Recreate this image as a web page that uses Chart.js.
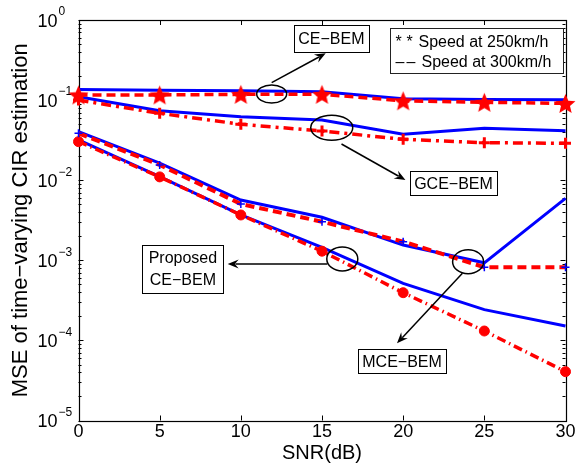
<!DOCTYPE html>
<html>
<head>
<meta charset="utf-8">
<script src="https://cdn.jsdelivr.net/npm/chart.js@4.4.1/dist/chart.umd.min.js"></script>
<style>
  body { margin: 0; background: #fff; }
  canvas { display: block; }
</style>
</head>
<body>
<canvas id="mseChart" width="579" height="476"></canvas>
<script>
// SNR points (dB) and axis ticks
const snr = [0, 5, 10, 15, 20, 25, 30];
const snrTicks = [0, 5, 10, 15, 20, 25, 30];
const decadeExp = [0, -1, -2, -3, -4, -5];

// MSE values, solid blue = one speed, red marked = the other
const ceBemSolid   = [0.136, 0.133, 0.131, 0.127, 0.104, 0.102, 0.101];
const ceBemStar    = [0.116, 0.116, 0.118, 0.118, 0.098, 0.094, 0.091];
const gceBemSolid  = [0.110, 0.0738, 0.062, 0.0565, 0.0374, 0.0445, 0.0415];
const gceBemPlus   = [0.100, 0.0684, 0.0499, 0.0411, 0.0324, 0.0294, 0.0289];
const mceBemSolid  = [0.0404, 0.0163, 0.00566, 0.00344, 0.00155, 0.00093, 0.00594];
const mceBemDash   = [0.0385, 0.0155, 0.00505, 0.00303, 0.00171, 0.00082, 0.00082];
const propBemSolid = [0.0318, 0.0111, 0.00368, 0.00145, 0.000516, 0.000242, 0.000151];
const propBemDot   = [0.0303, 0.0110, 0.00368, 0.00130, 0.000394, 0.000131, 0.0000407];

const BLUE = '#0000ff';
const RED = '#ff0000';
const FONT = '"Liberation Sans", Arial, Helvetica, sans-serif';

const pts = vals => vals.map((v, i) => ({ x: snr[i], y: v }));

// filled pentagram used as point marker
function starMarker(r, color) {
  const c = document.createElement('canvas');
  const s = Math.ceil(r * 2 + 2);
  c.width = s; c.height = s;
  const g = c.getContext('2d');
  g.fillStyle = color;
  g.beginPath();
  for (let i = 0; i < 10; i++) {
    const rad = i % 2 ? r * 0.45 : r;
    const ang = -Math.PI / 2 + i * Math.PI / 5;
    g.lineTo(s / 2 + rad * Math.cos(ang), s / 2 + 1 + rad * Math.sin(ang));
  }
  g.closePath();
  g.fill();
  return c;
}

const lineBase = { tension: 0, clip: false, fill: false };

const datasets = [
  Object.assign({}, lineBase, {
    label: 'CE-BEM 250', data: pts(ceBemStar),
    borderColor: RED, borderWidth: 3.5, borderDash: [9, 5],
    pointStyle: starMarker(10.5, RED), pointRadius: 10
  }),
  Object.assign({}, lineBase, {
    label: 'GCE-BEM 250', data: pts(gceBemPlus),
    borderColor: RED, borderWidth: 3.5, borderDash: [10, 5, 3, 5],
    pointStyle: 'cross', pointRadius: 5.5, pointBorderWidth: 3,
    pointBorderColor: RED
  }),
  Object.assign({}, lineBase, {
    label: 'MCE-BEM 250', data: pts(mceBemDash),
    borderColor: RED, borderWidth: 4, borderDash: [9, 5],
    pointStyle: 'cross', pointRadius: 4, pointBorderWidth: 1.5,
    pointBorderColor: BLUE
  }),
  Object.assign({}, lineBase, {
    label: 'Proposed CE-BEM 250', data: pts(propBemDot),
    borderColor: RED, borderWidth: 3.5, borderDash: [9, 4, 1.5, 4],
    pointStyle: 'circle', pointRadius: 5, pointBorderWidth: 1,
    pointBackgroundColor: RED, pointBorderColor: RED
  }),
  Object.assign({}, lineBase, {
    label: 'CE-BEM 300', data: pts(ceBemSolid),
    borderColor: BLUE, borderWidth: 3, pointRadius: 0
  }),
  Object.assign({}, lineBase, {
    label: 'GCE-BEM 300', data: pts(gceBemSolid),
    borderColor: BLUE, borderWidth: 3, pointRadius: 0
  }),
  Object.assign({}, lineBase, {
    label: 'MCE-BEM 300', data: pts(mceBemSolid),
    borderColor: BLUE, borderWidth: 3, pointRadius: 0
  }),
  Object.assign({}, lineBase, {
    label: 'Proposed CE-BEM 300', data: pts(propBemSolid),
    borderColor: BLUE, borderWidth: 3, pointRadius: 0
  })
];

// axes box, inward ticks and tick labels
const axisFrame = {
  id: 'axisFrame',
  beforeDatasetsDraw(chart) {
    const { ctx, chartArea: a, scales: { x, y } } = chart;
    ctx.save();
    ctx.strokeStyle = '#000';
    ctx.lineWidth = 1;
    ctx.beginPath();
    snrTicks.forEach(v => {
      const px = Math.round(x.getPixelForValue(v)) + 0.5;
      ctx.moveTo(px, a.bottom); ctx.lineTo(px, a.bottom - 5);
      ctx.moveTo(px, a.top); ctx.lineTo(px, a.top + 5);
    });
    decadeExp.forEach(e => {
      for (let m = 1; m < 10; m++) {
        const v = m * Math.pow(10, e);
        if (v > 1 || (e === 0 && m > 1)) break;
        const len = m === 1 ? 5 : 3;
        const py = Math.round(y.getPixelForValue(v)) + 0.5;
        ctx.moveTo(a.left, py); ctx.lineTo(a.left + len, py);
        ctx.moveTo(a.right, py); ctx.lineTo(a.right - len, py);
      }
    });
    ctx.stroke();
    ctx.lineWidth = 1.2;
    ctx.strokeRect(Math.round(a.left) + 0.5, Math.round(a.top) + 0.5,
      Math.round(a.width), Math.round(a.height));

    ctx.fillStyle = '#000';
    ctx.font = '18px ' + FONT;
    ctx.textAlign = 'center';
    ctx.textBaseline = 'alphabetic';
    snrTicks.forEach(v => ctx.fillText(String(v), x.getPixelForValue(v), a.bottom + 16));

    decadeExp.forEach(e => {
      const py = y.getPixelForValue(Math.pow(10, e));
      ctx.font = '18px ' + FONT;
      ctx.textAlign = 'right';
      ctx.textBaseline = 'middle';
      ctx.fillText('10', a.left - 21, py + 2);
      ctx.font = '12px ' + FONT;
      ctx.textAlign = 'left';
      ctx.fillText(e === 0 ? '0' : '\u2212' + (-e), a.left - 20, py - 8);
    });

    ctx.font = '20px ' + FONT;
    ctx.textAlign = 'center';
    ctx.textBaseline = 'alphabetic';
    ctx.fillText('SNR(dB)', (a.left + a.right) / 2, a.bottom + 38);

    ctx.save();
    ctx.translate(27, (a.top + a.bottom) / 2);
    ctx.rotate(-Math.PI / 2);
    ctx.font = '22px ' + FONT;
    ctx.fillText('MSE of time\u2212varying CIR estimation', 0, 0);
    ctx.restore();
    ctx.restore();
  }
};

// callouts: ellipses, arrows and boxed labels (anchored in data units)
const ellipses = [
  { x: 11.9, y: 0.119, rx: 15, ry: 9 },
  { x: 15.6, y: 0.0452, rx: 21, ry: 12.5 },
  { x: 16.25, y: 0.00104, rx: 15.5, ry: 12 },
  { x: 24.0, y: 0.00096, rx: 15.5, ry: 12 }
];
const arrows = [
  { from: [11.9, 0.165], to: [15.23, 0.384] },
  { from: [16.2, 0.0283], to: [20.14, 0.01005] },
  { from: [15.33, 0.0009], to: [9.19, 0.0009] },
  { from: [23.65, 0.000688], to: [19.62, 0.000092] }
];
const boxes = [
  { x: 15.58, y: 0.585, w: 75, h: 27, lines: ['CE\u2212BEM'] },
  { x: 23.1, y: 0.00915, w: 87, h: 24, lines: ['GCE\u2212BEM'] },
  { x: 6.43, y: 0.000783, w: 81, h: 48, lines: ['Proposed', 'CE\u2212BEM'] },
  { x: 19.93, y: 0.0000548, w: 88, h: 24, lines: ['MCE\u2212BEM'] }
];
// legend: two marker glyphs then the description
const legendLines = [['*', '*', 'Speed at 250km/h'], ['\u2013', '\u2013', 'Speed at 300km/h']];

const callouts = {
  id: 'callouts',
  afterDraw(chart) {
    const { ctx, chartArea: a, scales: { x, y } } = chart;
    ctx.save();
    ctx.strokeStyle = '#000';
    ctx.fillStyle = '#000';
    ctx.lineWidth = 1.5;
    ellipses.forEach(el => {
      ctx.beginPath();
      ctx.ellipse(x.getPixelForValue(el.x), y.getPixelForValue(el.y), el.rx, el.ry, 0, 0, Math.PI * 2);
      ctx.stroke();
    });
    arrows.forEach(ar => {
      const x0 = x.getPixelForValue(ar.from[0]), y0 = y.getPixelForValue(ar.from[1]);
      const x1 = x.getPixelForValue(ar.to[0]), y1 = y.getPixelForValue(ar.to[1]);
      const ang = Math.atan2(y1 - y0, x1 - x0);
      const L = 11, W = 4.5;
      ctx.beginPath();
      ctx.moveTo(x0, y0);
      ctx.lineTo(x1 - Math.cos(ang) * L * 0.7, y1 - Math.sin(ang) * L * 0.7);
      ctx.stroke();
      ctx.save();
      ctx.translate(x1, y1);
      ctx.rotate(ang);
      ctx.beginPath();
      ctx.moveTo(0, 0);
      ctx.lineTo(-L, -W);
      ctx.lineTo(-L * 0.65, 0);
      ctx.lineTo(-L, W);
      ctx.closePath();
      ctx.fill();
      ctx.restore();
    });

    ctx.lineWidth = 1;
    ctx.font = '16px ' + FONT;
    ctx.textAlign = 'center';
    ctx.textBaseline = 'middle';
    boxes.forEach(b => {
      const cx = x.getPixelForValue(b.x), cy = y.getPixelForValue(b.y);
      const bx = Math.round(cx - b.w / 2) + 0.5, by = Math.round(cy - b.h / 2) + 0.5;
      ctx.fillStyle = '#fff';
      ctx.fillRect(bx, by, b.w, b.h);
      ctx.strokeRect(bx, by, b.w, b.h);
      ctx.fillStyle = '#000';
      const step = 22;
      b.lines.forEach((t, i) => {
        ctx.fillText(t, cx, cy + (i - (b.lines.length - 1) / 2) * step + 1);
      });
    });

    // legend box in the upper right corner
    const lw = 173, lh = 45;
    const lx = Math.round(a.right - 2.5 - lw) + 0.5, ly = Math.round(a.top + 8) + 0.5;
    ctx.fillStyle = '#fff';
    ctx.fillRect(lx, ly, lw, lh);
    ctx.strokeStyle = '#222';
    ctx.strokeRect(lx, ly, lw, lh);
    ctx.fillStyle = '#000';
    ctx.textAlign = 'left';
    legendLines.forEach((ln, i) => {
      const ty = ly + 14 + i * 20;
      ctx.fillText(ln[0], lx + 5, ty);
      ctx.fillText(ln[1], lx + 16, ty);
      ctx.fillText(ln[2], lx + (i === 0 ? 28 : 31), ty);
    });
    ctx.restore();
  }
};

new Chart(document.getElementById('mseChart').getContext('2d'), {
  type: 'line',
  data: { datasets: datasets },
  options: {
    responsive: false,
    animation: false,
    layout: { padding: { left: 78.5, top: 20, right: 11.5, bottom: 55.5 } },
    scales: {
      x: { type: 'linear', min: 0, max: 30, display: false },
      y: { type: 'logarithmic', min: 1e-5, max: 1, display: false }
    },
    plugins: {
      legend: { display: false },
      tooltip: { enabled: false }
    }
  },
  plugins: [axisFrame, callouts]
});
</script>
</body>
</html>
